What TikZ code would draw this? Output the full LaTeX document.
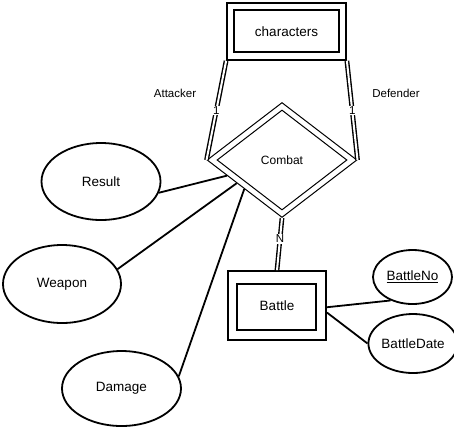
\documentclass[tikz,border=0pt]{standalone}
\usepackage{fontspec}
\setmainfont{Liberation Sans}
\usetikzlibrary{shapes.geometric,calc}
\begin{document}
\begin{tikzpicture}[x=1pt,y=-1pt,
    entity/.style={draw,line width=1.8pt,rectangle,inner sep=0pt,font=\fontsize{13.5}{16}\selectfont},
    attr/.style={draw,line width=1.8pt,ellipse,inner sep=0pt,font=\fontsize{13.5}{16}\selectfont},
    rel/.style={draw,line width=1pt,diamond,inner sep=0pt,font=\fontsize{12}{14}\selectfont},
    link/.style={line width=1.8pt},
    dlink/.style={double,double distance=2pt,line width=1.4pt},
    card/.style={fill=white,inner sep=1pt,font=\fontsize{11.5}{13}\selectfont},
    role/.style={font=\fontsize{11.5}{14}\selectfont}]
  \useasboundingbox (0,0) rectangle (454,432);
  % weak entities
  \node[entity,minimum width=105pt,minimum height=42pt] (charin) at (286.5,31) {};
  \node[entity,minimum width=119pt,minimum height=57pt] (characters) at (286.5,31.5) {characters};
  \node[entity,minimum width=79pt,minimum height=46pt] (battlein) at (276.5,307) {};
  \node[entity,minimum width=98pt,minimum height=69pt] (battle) at (277,305.5) {Battle};
  % relationship
  \node[rel,minimum width=130pt,minimum height=100pt] (combatin) at (282,160) {};
  \node[rel,minimum width=150pt,minimum height=115pt] (combat) at (282,160) {Combat};
  \coordinate (cr) at ($(combat.west)!0.27!(combat.south)$);
  \coordinate (cw) at ($(combat.west)!0.40!(combat.south)$);
  \coordinate (cd) at ($(combat.west)!0.50!(combat.south)$);
  % attributes
  \node[attr,minimum width=119pt,minimum height=77pt] (result) at (101,181.5) {Result};
  \node[attr,minimum width=118pt,minimum height=78pt] (weapon) at (62,284) {Weapon};
  \node[attr,minimum width=119pt,minimum height=75pt] (damage) at (121.5,388.5) {Damage};
  \node[attr,minimum width=79pt,minimum height=54pt] (battleno) at (412.5,277) {\underline{BattleNo}};
  \node[attr,minimum width=80pt,minimum height=59pt] (battledate) at (413,343.5) {BattleDate};
  % roles
  \node[role] (attacker) at (175,93) {Attacker};
  \node[role] (defender) at (396,93) {Defender};
  % connectors
  \draw[dlink] (characters.south west) -- (combat.west) node[card,pos=0.5] (c1) {1};
  \draw[dlink] (characters.south east) -- (combat.east) node[card,pos=0.5] (c2) {1};
  \draw[dlink] (combat.south) -- (battle.north) node[card,pos=0.4] (cn) {N};
  \draw[link] (result.-11) -- (cr);
  \draw[link] (weapon.15) -- (cw);
  \draw[link] (damage.12) -- (cd);
  \draw[link] (battle.-2) -- (battleno.227);
  \draw[link] (battle.-8) -- (battledate.west);
\end{tikzpicture}
\end{document}
